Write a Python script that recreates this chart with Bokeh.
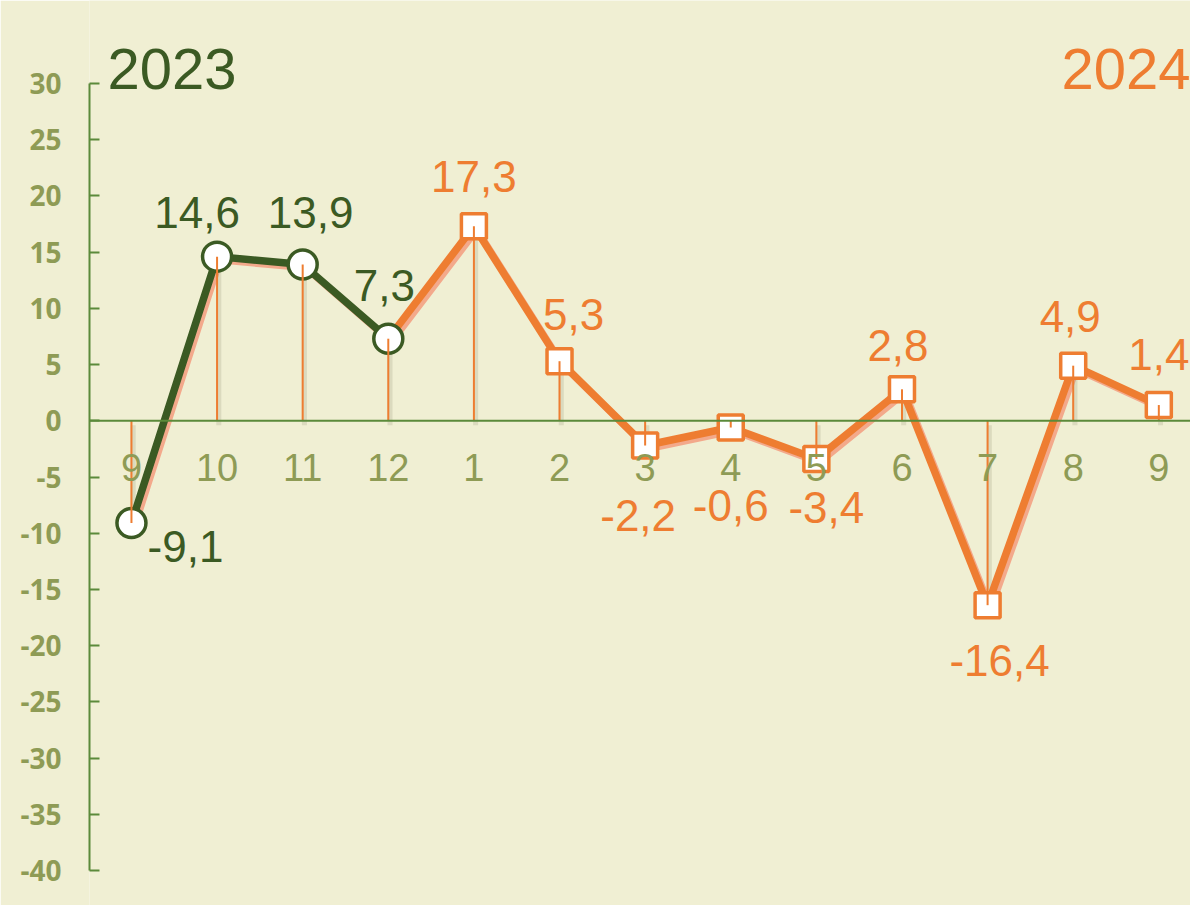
from bokeh.plotting import figure
from bokeh.models import ColumnDataSource, Range1d, Span, Label, FixedTicker
from bokeh.transform import dodge
from bokeh.core.properties import value
from bokeh.embed import file_html
from bokeh.resources import INLINE

# ---- data ----
months = ["9", "10", "11", "12", "1", "2", "3", "4", "5", "6", "7", "8", "9"]
values_2023 = [-9.1, 14.6, 13.9, 7.3]
values_2024 = [17.3, 5.3, -2.2, -0.6, -3.4, 2.8, -16.4, 4.9, 1.4]
y_ticks = [-40, -35, -30, -25, -20, -15, -10, -5, 0, 5, 10, 15, 20, 25, 30]

# ---- styles ----
BG = "#F0EFD3"
GREEN = "#3B5A23"
AXIS_GREEN = "#5B8A3A"
OLIVE = "#8E9B55"
ORANGE = "#EE7D31"
SALMON = "#F3A98B"
FONT = "Liberation Sans"

# label offsets (screen px) for each point
lab_dx = [54, -20, 8, -4, 0, 14, -7, 0, 10, -4, 12, -3, 0]
lab_dy = [23, -44, -52, -53, -50, -47, 70, 78, 48, -44, 55, -49, -51]

all_vals = values_2023 + values_2024
idx = list(range(len(months)))
n23 = len(values_2023)

def fmt(v):
    return f"{v:.1f}".replace(".", ",")

src_all = ColumnDataSource(dict(
    x=idx, y=all_vals, zero=[0] * len(idx),
    text=[fmt(v) for v in all_vals],
    dx=lab_dx, dy=lab_dy,
    color=[GREEN] * n23 + [ORANGE] * len(values_2024),
    month=months,
))
src23 = ColumnDataSource(dict(x=idx[:n23], y=values_2023))
src24_line = ColumnDataSource(dict(x=idx[n23 - 1:], y=all_vals[n23 - 1:]))
src24 = ColumnDataSource(dict(x=idx[n23:], y=values_2024))

p = figure(width=1190, height=905,
           x_range=Range1d(-0.49, 12.37), y_range=Range1d(-43.11, 37.38),
           output_backend="svg", toolbar_location=None,
           min_border_left=89, min_border_right=0, min_border_top=0, min_border_bottom=0)
p.background_fill_color = BG
p.border_fill_color = BG
p.outline_line_color = None
p.xgrid.visible = False
p.ygrid.visible = False
p.xaxis.visible = False

ax = p.yaxis[0]
ax.bounds = (-40, 30)
ax.ticker = FixedTicker(ticks=y_ticks)
ax.major_label_overrides = {t: str(t) for t in y_ticks}
ax.major_tick_in = 10
ax.major_tick_out = 0
ax.minor_tick_line_color = None
ax.axis_line_color = AXIS_GREEN
ax.axis_line_width = 2
ax.major_tick_line_color = AXIS_GREEN
ax.major_tick_line_width = 2
ax.major_label_text_font = "Open Sans"
ax.major_label_text_font_style = "bold"
ax.major_label_text_font_size = "28px"
ax.major_label_text_color = OLIVE
ax.major_label_standoff = 28

p.add_layout(Span(location=0, dimension="width", line_color=AXIS_GREEN, line_width=2))

# shadow line
p.line(x=dodge("x", 0.035), y=dodge("y", -0.3), source=src_all,
       line_color=SALMON, line_width=7)
# drop-line shadows
p.segment(x0=dodge("x", 0.02), y0=dodge("zero", -0.4), x1=dodge("x", 0.02), y1="y",
          source=src_all, line_color="#9A9A80", line_alpha=0.25, line_width=5)
# main lines
p.line("x", "y", source=src24_line, line_color=ORANGE, line_width=7.5)
p.line("x", "y", source=src23, line_color=GREEN, line_width=7.5)

# markers
p.scatter("x", "y", source=src24, marker="square", size=25,
          fill_color="white", line_color=ORANGE, line_width=3.5)
p.scatter("x", "y", source=src23, marker="circle", size=29,
          fill_color="white", line_color=GREEN, line_width=3.5)

# drop lines
p.segment(x0="x", y0="zero", x1="x", y1="y", source=src_all,
          line_color=ORANGE, line_width=2)

# month labels
p.text(x="x", y="zero", text="month", source=src_all, y_offset=47,
       text_font=value(FONT), text_font_size="38px", text_color=OLIVE,
       text_align="center", text_baseline="middle")

# data labels
p.text(x="x", y="y", text="text", source=src_all, x_offset="dx", y_offset="dy",
       text_font=value(FONT), text_font_size="44px", text_color="color",
       text_align="center", text_baseline="middle")

# year titles
p.add_layout(Label(x=-0.28, y=31.25, text="2023", text_font=FONT,
                   text_font_size="58px", text_color=GREEN,
                   text_align="left", text_baseline="alphabetic"))
p.add_layout(Label(x=12.37, y=31.25, text="2024", text_font=FONT,
                   text_font_size="58px", text_color=ORANGE,
                   text_align="right", text_baseline="alphabetic"))

open("out.html", "w").write(file_html(p, INLINE))
